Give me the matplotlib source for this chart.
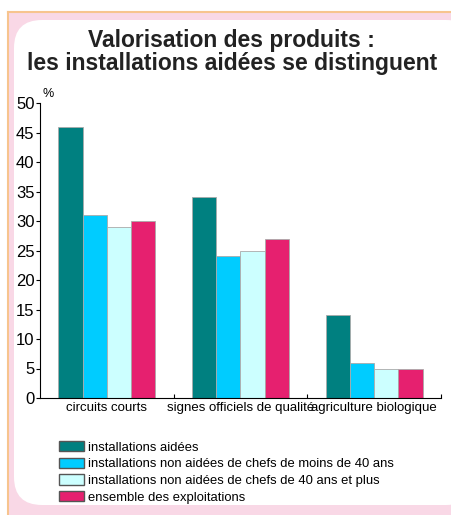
import matplotlib.pyplot as plt
from matplotlib.patches import Rectangle, FancyBboxPatch, Patch
import numpy as np

plt.rcParams['font.family'] = ['Liberation Sans', 'DejaVu Sans']

categories = ['circuits courts', 'signes officiels de qualité', 'agriculture biologique']
series_names = [
    'installations aidées',
    'installations non aidées de chefs de moins de 40 ans',
    'installations non aidées de chefs de 40 ans et plus',
    'ensemble des exploitations',
]
aidees = [46, 34, 14]
non_aidees_moins40 = [31, 24, 6]
non_aidees_40plus = [29, 25, 5]
ensemble = [30, 27, 5]
colors = ['#008080', '#00CCFF', '#CCFFFF', '#E6206F']
yticks = [0, 5, 10, 15, 20, 25, 30, 35, 40, 45, 50]

fig = plt.figure(figsize=(4.52, 5.15), dpi=100)

# fond rose + boite blanche arrondie
fig.patches.append(Rectangle((8 / 452, 0), 1, 1 - 12 / 515, transform=fig.transFigure,
                             facecolor='#F9D8E6', edgecolor='none', zorder=-3))
fig.add_artist(plt.Line2D([8 / 452, 8 / 452], [0, 1 - 12 / 515], color='#F7C48E', lw=1.5,
                          transform=fig.transFigure, zorder=-2))
fig.add_artist(plt.Line2D([8 / 452, 1], [1 - 12 / 515, 1 - 12 / 515], color='#F7C48E', lw=1.5,
                          transform=fig.transFigure, zorder=-2))
box = FancyBboxPatch((14, 10), 460, 485, boxstyle='round,pad=0,rounding_size=28',
                     transform=None, facecolor='white', edgecolor='none', zorder=-1)
fig.patches.append(box)

titre = ['Valorisation des produits :', 'les installations aidées se distinguent']
fig.text(0.513, 1 - 52 / 515, '\n'.join(titre), ha='center', va='center', linespacing=0.95,
         fontsize=16.5, fontweight='bold', color='#222222')

ax = fig.add_axes([40 / 452, 1 - 398 / 515, 401 / 452, 295 / 515])
ax.set_facecolor('none')

x = np.arange(len(categories))
w = 0.181
all_series = [aidees, non_aidees_moins40, non_aidees_40plus, ensemble]
for i, (vals, c) in enumerate(zip(all_series, colors)):
    ax.bar(x + (i - 1.5) * w, vals, w, color=c, edgecolor='#AAAAAA', linewidth=0.6)

ax.set_xlim(-0.5, 2.5)
ax.set_ylim(0, 50)
ax.set_yticks(yticks)
ax.tick_params(axis='y', direction='out', length=3, width=0.8, labelsize=12, pad=1)
ax.set_xticks(x)
ax.set_xticklabels(categories)
ax.tick_params(axis='x', length=0, labelsize=9.5, pad=3)
ax.set_xticks([0.5, 1.5, 2.5], minor=True)
ax.tick_params(axis='x', which='minor', direction='in', length=3, width=0.8)
for s in ['top', 'right']:
    ax.spines[s].set_visible(False)
ax.spines['left'].set_linewidth(0.8)
ax.spines['bottom'].set_linewidth(0.8)
ax.text(0.005, 1.01, '%', transform=ax.transAxes, fontsize=9, ha='left', va='bottom')

handles = [Patch(facecolor=c, edgecolor='#555555', linewidth=1) for c in colors]
fig.legend(handles, series_names, loc='upper left', bbox_to_anchor=(59 / 452, 1 - 441 / 515),
           frameon=False, fontsize=9.4, handlelength=1.9, handleheight=0.85,
           labelspacing=0.3, handletextpad=0.35, borderpad=0, borderaxespad=0)

plt.savefig('out.png', dpi=100)
